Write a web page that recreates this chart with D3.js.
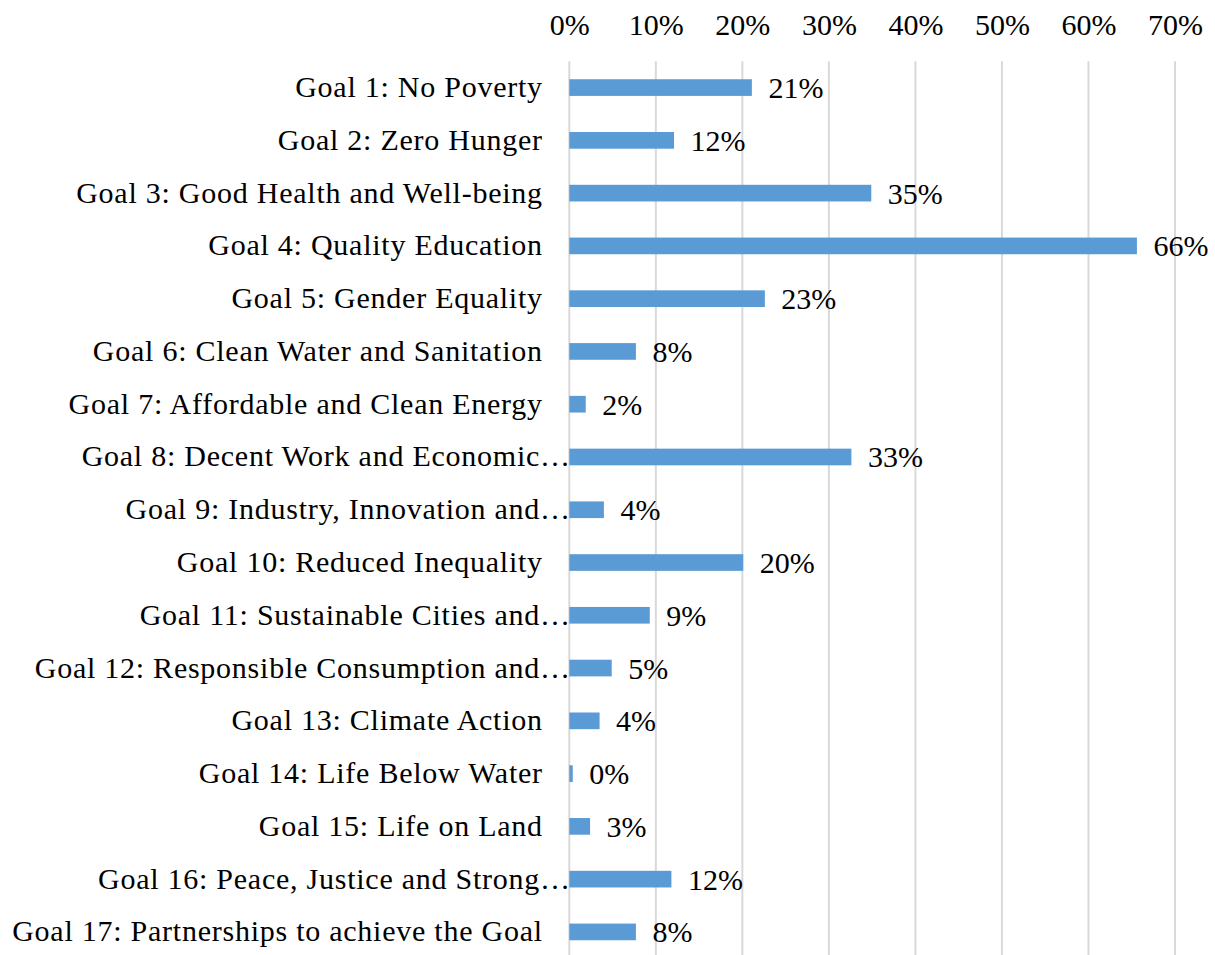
<!DOCTYPE html>
<html>
<head>
<meta charset="utf-8">
<script src="https://cdn.jsdelivr.net/npm/d3@7"></script>
<style>
  html, body { margin: 0; padding: 0; background: #ffffff; }
  svg { display: block; }
  text { font-family: "Liberation Serif", "Times New Roman", serif; fill: #000; }
</style>
</head>
<body>
<svg id="chart" width="1215" height="955"></svg>
<script>
const categories = [
  "Goal 1: No Poverty",
  "Goal 2: Zero Hunger",
  "Goal 3: Good Health and Well-being",
  "Goal 4: Quality Education",
  "Goal 5: Gender Equality",
  "Goal 6: Clean Water and Sanitation",
  "Goal 7: Affordable and Clean Energy",
  "Goal 8: Decent Work and Economic…",
  "Goal 9: Industry, Innovation and…",
  "Goal 10: Reduced Inequality",
  "Goal 11: Sustainable Cities and…",
  "Goal 12: Responsible Consumption and…",
  "Goal 13: Climate Action",
  "Goal 14: Life Below Water",
  "Goal 15: Life on Land",
  "Goal 16: Peace, Justice and Strong…",
  "Goal 17: Partnerships to achieve the Goal"
];
const values = [0.211, 0.121, 0.349, 0.656, 0.226, 0.077, 0.019, 0.326, 0.040, 0.201, 0.093, 0.049, 0.035, 0.004, 0.024, 0.118, 0.077];
const valueLabels = ["21%", "12%", "35%", "66%", "23%", "8%", "2%", "33%", "4%", "20%", "9%", "5%", "4%", "0%", "3%", "12%", "8%"];
const tickValues = [0, 0.1, 0.2, 0.3, 0.4, 0.5, 0.6, 0.7];
const tickLabels = ["0%", "10%", "20%", "30%", "40%", "50%", "60%", "70%"];

const svg = d3.select("#chart");
const plot = { left: 569.3, right: 1175, top: 61.2, bottom: 958.3 };

const x = d3.scaleLinear().domain([0, 0.7]).range([plot.left, plot.right]);
const y = d3.scaleBand().domain(categories).range([plot.top, plot.bottom])
  .paddingInner(0.684).paddingOuter(0.342);

// gridlines
svg.append("g").selectAll("line").data(tickValues).join("line")
  .attr("x1", d => x(d)).attr("x2", d => x(d))
  .attr("y1", plot.top).attr("y2", plot.bottom)
  .attr("stroke", "#d9d9d9").attr("stroke-width", 2);

// top axis labels
const xAxis = d3.axisTop(x).tickValues(tickValues)
  .tickFormat((d, i) => tickLabels[i]).tickSize(0).tickPadding(0);
const gx = svg.append("g").attr("transform", "translate(0,34.5)").call(xAxis);
gx.select(".domain").remove();
gx.selectAll("text").attr("font-size", 30).attr("font-family", "Liberation Serif").attr("fill", "#000")
  .attr("dy", 0);

// bars
svg.append("g").selectAll("rect").data(categories).join("rect")
  .attr("x", x(0))
  .attr("y", d => y(d))
  .attr("width", (d, i) => x(values[i]) - x(0))
  .attr("height", y.bandwidth())
  .attr("fill", "#5b9bd5");

// value labels
svg.append("g").selectAll("text").data(categories).join("text")
  .attr("x", (d, i) => x(values[i]) + 16.5)
  .attr("y", d => y(d) + y.bandwidth() / 2 + 10.5)
  .attr("font-size", 30)
  .text((d, i) => valueLabels[i]);

// category labels
svg.append("g").selectAll("text").data(categories).join("text")
  .attr("x", d => d.endsWith("…") ? x(0) + 1.5 : x(0) - 26.5)
  .attr("y", d => y(d) + y.bandwidth() / 2 + 9.5)
  .attr("text-anchor", "end")
  .attr("font-size", 30)
  .attr("letter-spacing", 0.75)
  .text(d => d);
</script>
</body>
</html>
